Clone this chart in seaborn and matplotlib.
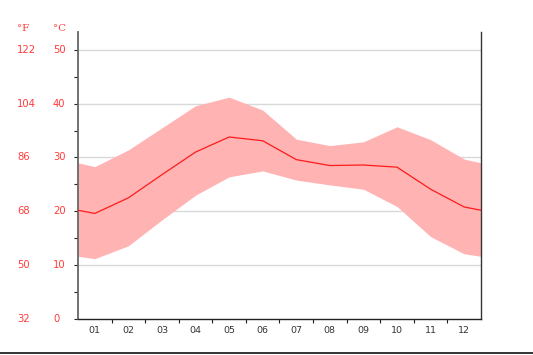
import numpy as np
import pandas as pd
import seaborn as sns
import matplotlib.pyplot as plt
from matplotlib.lines import Line2D

# monthly climate values, deg C
months = ['01', '02', '03', '04', '05', '06', '07', '08', '09', '10', '11', '12']
t_max = [28.3, 31.4, 35.5, 39.6, 41.2, 38.8, 33.4, 32.2, 32.9, 35.7, 33.3, 29.7]
t_mean = [19.6, 22.5, 26.8, 31.0, 33.8, 33.1, 29.6, 28.5, 28.6, 28.2, 24.1, 20.8]
t_min = [11.2, 13.6, 18.4, 23.0, 26.4, 27.5, 25.8, 24.9, 24.1, 20.9, 15.3, 12.1]
c_ticks = [0, 10, 20, 30, 40, 50]
f_ticks = [32, 50, 68, 86, 104, 122]

# wrap dec/jan so the band runs to both edges of the plot
df = pd.DataFrame({'x': np.arange(1, 13), 'max': t_max, 'mean': t_mean, 'min': t_min})
edge = df[['max', 'mean', 'min']].iloc[[0, -1]].mean()
df = pd.concat([pd.DataFrame([{'x': 0.5, **edge}]), df,
                pd.DataFrame([{'x': 12.5, **edge}])], ignore_index=True)

sns.set_style('white')
red = '#ff3b3b'

fig = plt.figure(figsize=(5.33, 3.55), dpi=100)
ax = fig.add_axes([78 / 533, 1 - 319 / 355, 403 / 533, 287 / 355])

ax.fill_between(df['x'], df['min'], df['max'], color='#ffb3b3', lw=0, zorder=2)
sns.lineplot(data=df, x='x', y='mean', color='#ff1a1a', lw=0.9, ax=ax, zorder=3)

ax.set_xlim(0.5, 12.5)
ax.set_ylim(0, 53.3)
for c in c_ticks[1:]:
    ax.axhline(c, color='#d9d9d9', lw=1, zorder=1)

# x axis: labels at months, ticks at month boundaries
ax.set_xticks(np.arange(1, 13))
ax.set_xticklabels(months, fontsize=6.8, color='#333333')
ax.set_xticks(np.arange(1.5, 12.5, 1), minor=True)
ax.tick_params(axis='x', which='major', length=0, pad=5)
ax.tick_params(axis='x', which='minor', length=3, width=0.8, color='#222222', direction='out', bottom=True)

# y axis ticks every 5, labels drawn by hand
ax.set_yticks(np.arange(0, 55, 5))
ax.set_yticklabels([])
ax.tick_params(axis='y', length=3, width=0.8, color='#222222', direction='out', left=True)
ax.set_xlabel('')
ax.set_ylabel('')

tr = ax.get_yaxis_transform()
for c, f in zip(c_ticks, f_ticks):
    ax.text(-0.062, c, str(c), transform=tr, ha='left', va='center', fontsize=7.2, color=red)
    ax.text(-0.151, c, str(f), transform=tr, ha='left', va='center', fontsize=7.2, color=red)
ax.text(-0.062, 1.0139, '°C', transform=ax.transAxes, ha='left', va='center',
        fontsize=7.4, color=red, family='DejaVu Serif')
ax.text(-0.151, 1.0139, '°F', transform=ax.transAxes, ha='left', va='center',
        fontsize=7.4, color=red, family='DejaVu Serif')

ax.spines['top'].set_visible(False)
ax.spines['left'].set_color('#666666')
ax.spines['left'].set_linewidth(1.3)
ax.spines['right'].set_color('#333333')
ax.spines['right'].set_linewidth(1)
ax.spines['bottom'].set_color('#222222')
ax.spines['bottom'].set_linewidth(1)

# dark rule along the bottom of the image
fig.add_artist(Line2D([0, 1], [1 - 353 / 355] * 2, color='#111111', lw=1.2, transform=fig.transFigure))

fig.savefig('out.png', dpi=100)
